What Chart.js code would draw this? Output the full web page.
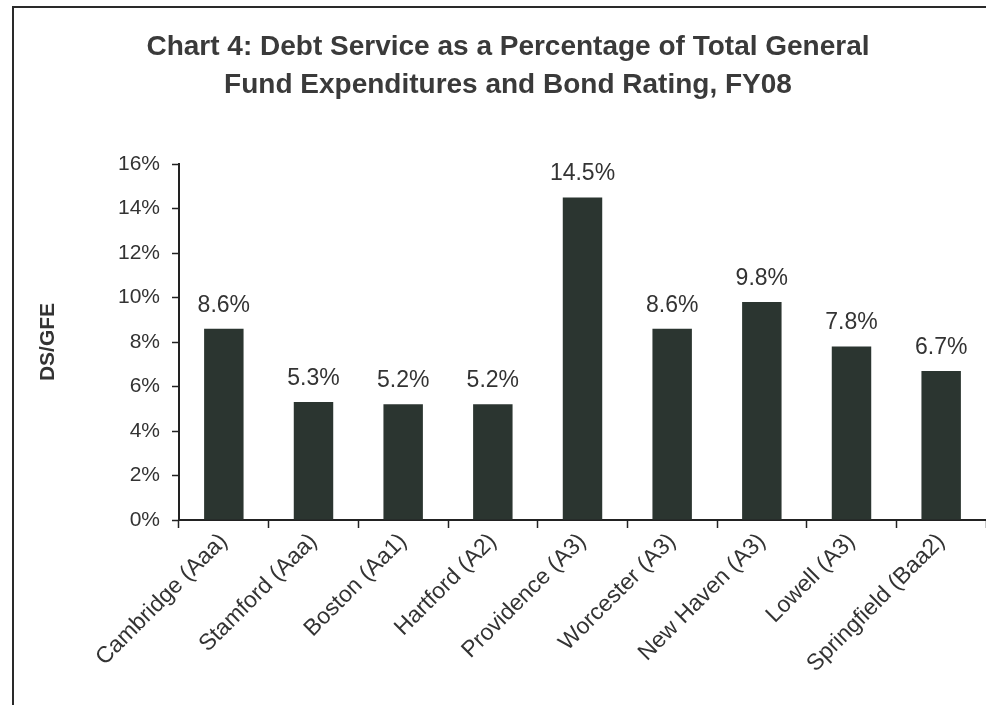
<!DOCTYPE html>
<html>
<head>
<meta charset="utf-8">
<script src="https://cdn.jsdelivr.net/npm/chart.js@4/dist/chart.umd.min.js"></script>
<style>
  html, body { margin: 0; padding: 0; background: #fff; overflow: hidden; }
  #wrap { position: relative; width: 986px; height: 705px; }
  #frame { position: absolute; left: 12px; top: 6px; width: 990px; height: 720px;
           border-left: 2px solid #2a2a2a; border-top: 2px solid #2a2a2a; }
  #c { position: absolute; left: 0; top: 0; }
</style>
</head>
<body>
<div id="wrap">
  <div id="frame"></div>
  <canvas id="c" width="986" height="705"></canvas>
</div>
<script>
const titleLines = ["Chart 4: Debt Service as a Percentage of Total General",
                    "Fund Expenditures and Bond Rating, FY08"];
const categories = ["Cambridge (Aaa)", "Stamford (Aaa)", "Boston (Aa1)", "Hartford (A2)",
                    "Providence (A3)", "Worcester (A3)", "New Haven (A3)", "Lowell (A3)", "Springfield (Baa2)"];
const dsGfe = [8.6, 5.3, 5.2, 5.2, 14.5, 8.6, 9.8, 7.8, 6.7];
const yTitle = "DS/GFE";
const yMin = 0, yMax = 16, yStep = 2;

const FONT = "'Liberation Sans', Arial, sans-serif";
const TXT = "#333333";
const AX = "#222222";

const valueLabels = {
  id: 'valueLabels',
  afterDatasetsDraw(chart) {
    const ctx = chart.ctx;
    const meta = chart.getDatasetMeta(0);
    ctx.save();
    ctx.font = "23px " + FONT;
    ctx.fillStyle = TXT;
    ctx.textAlign = 'center';
    ctx.textBaseline = 'alphabetic';
    meta.data.forEach((bar, i) => {
      ctx.fillText(dsGfe[i].toFixed(1) + '%', bar.x, bar.y - 17);
    });
    ctx.restore();
  }
};

new Chart(document.getElementById('c'), {
  type: 'bar',
  data: {
    labels: categories,
    datasets: [{
      data: dsGfe,
      backgroundColor: '#2b3530',
      borderWidth: 0,
      categoryPercentage: 1.0,
      barPercentage: 0.44
    }]
  },
  options: {
    responsive: false,
    animation: false,
    devicePixelRatio: 1,
    layout: { padding: { left: 30, right: 0, top: 0, bottom: 0 } },
    plugins: {
      legend: { display: false },
      tooltip: { enabled: false },
      title: {
        display: true,
        text: titleLines,
        color: '#3a3a3a',
        font: { family: FONT, size: 28, weight: 'bold', lineHeight: 38 / 28 },
        padding: { top: 28, bottom: 60 }
      }
    },
    scales: {
      x: {
        grid: { drawOnChartArea: false, drawTicks: true, tickLength: 8, tickColor: AX, tickWidth: 1.5, offset: true },
        border: { display: true, color: AX, width: 2 },
        ticks: {
          color: TXT, font: { family: FONT, size: 23 },
          minRotation: 45, maxRotation: 45, padding: 0, autoSkip: false
        },
        afterFit(scale) { scale.height = 185; }
      },
      y: {
        min: yMin, max: yMax,
        grid: { drawOnChartArea: false, drawTicks: true, tickLength: 7, tickColor: AX, tickWidth: 1.5 },
        border: { display: true, color: AX, width: 2 },
        ticks: {
          stepSize: yStep, color: TXT, font: { family: FONT, size: 21 }, padding: 12,
          callback: v => v + '%'
        },
        title: {
          display: true, text: yTitle, color: TXT,
          font: { family: FONT, size: 21, weight: 'bold' },
          padding: { top: 6, bottom: 0 }
        },
        afterFit(scale) { scale.width = 149; }
      }
    }
  },
  plugins: [valueLabels]
});
</script>
</body>
</html>
